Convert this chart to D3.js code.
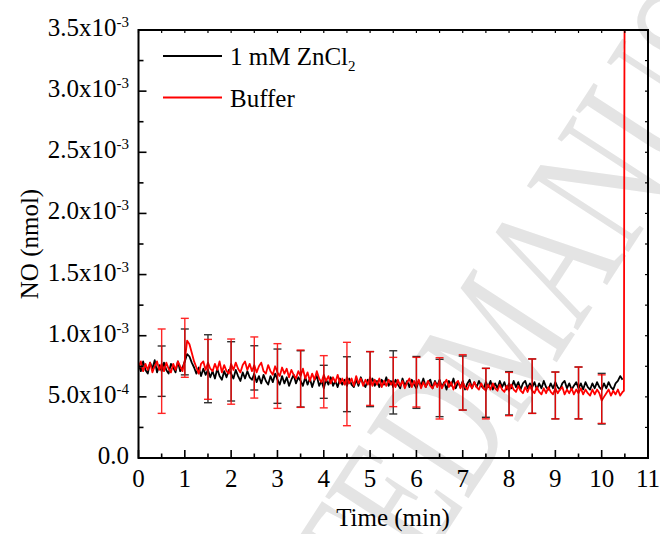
<!DOCTYPE html>
<html>
<head>
<meta charset="utf-8">
<script src="https://cdn.jsdelivr.net/npm/d3@7"></script>
<style>
  html, body { margin: 0; padding: 0; background: #fff; }
  svg { display: block; font-family: "Liberation Serif", "Times New Roman", serif; }
</style>
</head>
<body>
<div id="chart"></div>
<script>
'use strict';

// NO values are in units of 1e-3 nmol; samples every 0.05 min from t = 0
const SAMPLE_STEP = 0.05;

const ZNCL2_VALUES = [
  0.77, 0.71, 0.79, 0.72, 0.69, 0.78, 0.73, 0.80, 0.70, 0.76, 0.71, 0.78, 0.72, 0.69, 0.77, 0.74, 0.70, 0.79, 0.71, 0.74,
  0.79, 0.85, 0.83, 0.78, 0.74, 0.69, 0.74, 0.67, 0.73, 0.68,
  0.72, 0.66, 0.71, 0.65, 0.73, 0.67, 0.64, 0.71, 0.66, 0.72, 0.69, 0.65, 0.72, 0.67, 0.63, 0.70, 0.65, 0.71, 0.66, 0.64,
  0.69, 0.62, 0.67, 0.61, 0.68, 0.63, 0.60, 0.67, 0.62, 0.69, 0.64, 0.60, 0.67, 0.61, 0.66, 0.59, 0.64, 0.68, 0.61, 0.66,
  0.63, 0.59, 0.66, 0.60, 0.65, 0.58, 0.64, 0.67, 0.59, 0.63, 0.57, 0.64, 0.60, 0.66, 0.59, 0.63, 0.58, 0.65, 0.60, 0.64,
  0.59, 0.65, 0.60, 0.58, 0.64, 0.59, 0.66, 0.61, 0.58, 0.64, 0.60, 0.65, 0.59, 0.63, 0.58, 0.64, 0.60, 0.66, 0.59, 0.63,
  0.58, 0.64, 0.60, 0.57, 0.65, 0.59, 0.63, 0.58, 0.64, 0.60, 0.57, 0.63, 0.59, 0.65, 0.58, 0.62, 0.64, 0.57, 0.63, 0.59,
  0.64, 0.58, 0.62, 0.56, 0.63, 0.59, 0.65, 0.57, 0.62, 0.58, 0.63, 0.56, 0.61, 0.64, 0.57, 0.62, 0.58, 0.63, 0.59, 0.57,
  0.62, 0.58, 0.63, 0.56, 0.61, 0.57, 0.63, 0.58, 0.62, 0.56, 0.61, 0.57, 0.63, 0.58, 0.62, 0.56, 0.61, 0.63, 0.57, 0.61,
  0.58, 0.62, 0.56, 0.61, 0.57, 0.63, 0.58, 0.56, 0.61, 0.57, 0.62, 0.58, 0.56, 0.61, 0.63, 0.57, 0.61, 0.56, 0.59, 0.62,
  0.57, 0.61, 0.56, 0.62, 0.58, 0.56, 0.61, 0.57, 0.62, 0.58, 0.56, 0.61, 0.57, 0.62, 0.58, 0.56, 0.61, 0.63, 0.67, 0.64
];

const BUFFER_VALUES = [
  0.74, 0.79, 0.71, 0.77, 0.72, 0.78, 0.70, 0.75, 0.79, 0.72, 0.77, 0.71, 0.78, 0.73, 0.70, 0.77, 0.72, 0.79, 0.75, 0.71,
  0.80, 0.96, 0.93, 0.86, 0.79, 0.74, 0.69, 0.77, 0.79, 0.72,
  0.78, 0.73, 0.71, 0.77, 0.72, 0.79, 0.70, 0.76, 0.71, 0.69, 0.77, 0.72, 0.78, 0.73, 0.70, 0.76, 0.79, 0.72, 0.77, 0.71,
  0.76, 0.70, 0.75, 0.78, 0.71, 0.69, 0.76, 0.71, 0.68, 0.75, 0.70, 0.67, 0.74, 0.69, 0.73, 0.66, 0.72, 0.68, 0.65, 0.71,
  0.67, 0.73, 0.65, 0.70, 0.63, 0.69, 0.64, 0.71, 0.65, 0.62, 0.68, 0.63, 0.67, 0.61, 0.66, 0.62, 0.68, 0.61, 0.65, 0.60,
  0.66, 0.61, 0.65, 0.59, 0.67, 0.61, 0.65, 0.59, 0.64, 0.60, 0.66, 0.59, 0.64, 0.60, 0.65, 0.58, 0.63, 0.59, 0.64, 0.60,
  0.63, 0.58, 0.64, 0.59, 0.63, 0.57, 0.62, 0.65, 0.58, 0.63, 0.59, 0.64, 0.57, 0.62, 0.58, 0.63, 0.59, 0.57, 0.62, 0.58,
  0.63, 0.57, 0.61, 0.64, 0.58, 0.62, 0.56, 0.61, 0.63, 0.57, 0.62, 0.58, 0.56, 0.61, 0.57, 0.62, 0.58, 0.56, 0.61, 0.57,
  0.55, 0.60, 0.56, 0.61, 0.57, 0.55, 0.60, 0.56, 0.54, 0.59, 0.55, 0.60, 0.56, 0.54, 0.59, 0.55, 0.53, 0.58, 0.54, 0.59,
  0.55, 0.53, 0.58, 0.54, 0.52, 0.57, 0.53, 0.58, 0.54, 0.52, 0.57, 0.53, 0.56, 0.58, 0.52, 0.56, 0.53, 0.57, 0.52, 0.56,
  0.53, 0.57, 0.52, 0.56, 0.53, 0.51, 0.56, 0.52, 0.56, 0.53, 0.47, 0.50, 0.53, 0.56, 0.51, 0.55, 0.52, 0.56, 0.51, 0.54
];

// buffer trace ends with the jump off the top of the plot
const BUFFER_TAIL_TIME  = [10.48, 10.49, 10.50];
const BUFFER_TAIL_VALUE = [0.55, 3.00, 4.50];

const ERR_TIME = [0.5, 1, 1.5, 2, 2.5, 3, 3.5, 4, 4.5, 5, 5.5, 6, 6.5, 7, 7.5, 8, 8.5, 9, 9.5, 10];
const ZNCL2_ERR_HI = [0.916, 1.055, 1.008, 0.951, 0.918, 0.891, 0.877, 0.758, 0.828, 0.870, 0.877, 0.830, 0.807, 0.834, 0.733, 0.706, 0.810, 0.703, 0.744, 0.692];
const ZNCL2_ERR_LO = [0.504, 0.680, 0.452, 0.466, 0.556, 0.447, 0.417, 0.488, 0.379, 0.420, 0.360, 0.406, 0.338, 0.392, 0.333, 0.352, 0.365, 0.320, 0.320, 0.278];
const BUFFER_ERR_HI = [1.055, 1.142, 0.970, 0.973, 0.990, 0.935, 0.883, 0.837, 0.946, 0.870, 0.823, 0.823, 0.820, 0.845, 0.733, 0.700, 0.810, 0.703, 0.744, 0.680];
const BUFFER_ERR_LO = [0.365, 0.660, 0.480, 0.440, 0.490, 0.406, 0.414, 0.410, 0.264, 0.430, 0.420, 0.417, 0.319, 0.392, 0.320, 0.346, 0.365, 0.320, 0.320, 0.283];

const X_TICKS = [0, 1, 2, 3, 4, 5, 6, 7, 8, 9, 10, 11];
const Y_TICKS = [0, 0.5, 1.0, 1.5, 2.0, 2.5, 3.0, 3.5];
const Y_TICK_LABELS = [
  ['0.0', null], ['5.0x10', '-4'], ['1.0x10', '-3'], ['1.5x10', '-3'],
  ['2.0x10', '-3'], ['2.5x10', '-3'], ['3.0x10', '-3'], ['3.5x10', '-3']
];

const W = 660, H = 534;
const M = { left: 138.5, right: 648, top: 30, bottom: 458 };
const FONT = 25;

const x = d3.scaleLinear().domain([0, 11]).range([M.left, M.right]);
const y = d3.scaleLinear().domain([0, 3.5]).range([M.bottom, M.top]);

const svg = d3.select('#chart').append('svg')
  .attr('width', W).attr('height', H);

// faint diagonal watermark behind the plot
const wm = svg.append('g')
  .attr('transform', 'translate(516,425) rotate(-57) scale(0.68,1)')
  .attr('fill', '#e4e4e4')
  .attr('font-size', 185);
wm.append('text').attr('text-anchor', 'end').text('ACCEPTED ');
wm.append('text').attr('text-anchor', 'start').text('MANUSCRIPT');

svg.append('clipPath').attr('id', 'plot-clip')
  .append('rect')
  .attr('x', M.left).attr('y', M.top)
  .attr('width', M.right - M.left).attr('height', M.bottom - M.top);

const plot = svg.append('g').attr('clip-path', 'url(#plot-clip)');

const line = d3.line().x(d => x(d.t)).y(d => y(d.v));

const zncl2 = ZNCL2_VALUES.map((v, i) => ({ t: i * SAMPLE_STEP, v }));
const buffer = BUFFER_VALUES.map((v, i) => ({ t: i * SAMPLE_STEP, v }))
  .concat(BUFFER_TAIL_TIME.map((t, i) => ({ t, v: BUFFER_TAIL_VALUE[i] })));

plot.append('path').datum(zncl2)
  .attr('fill', 'none').attr('stroke', '#000').attr('stroke-width', 1.8)
  .attr('stroke-linejoin', 'round').attr('d', line);
plot.append('path').datum(buffer)
  .attr('fill', 'none').attr('stroke', '#ff0000').attr('stroke-width', 1.8)
  .attr('stroke-linejoin', 'round').attr('d', line);

function errorBars(hi, lo, color, opacity) {
  const g = plot.append('g').attr('stroke', color).attr('stroke-width', 1.4).attr('opacity', opacity);
  ERR_TIME.forEach((t, i) => {
    const cx = x(t);
    g.append('line').attr('x1', cx).attr('x2', cx).attr('y1', y(hi[i])).attr('y2', y(lo[i]));
    g.append('line').attr('x1', cx - 4).attr('x2', cx + 4).attr('y1', y(hi[i])).attr('y2', y(hi[i]));
    g.append('line').attr('x1', cx - 4).attr('x2', cx + 4).attr('y1', y(lo[i])).attr('y2', y(lo[i]));
  });
}
errorBars(ZNCL2_ERR_HI, ZNCL2_ERR_LO, '#000', 0.8);
errorBars(BUFFER_ERR_HI, BUFFER_ERR_LO, '#ff0000', 0.85);

// frame and inward ticks
const axes = svg.append('g').attr('stroke', '#000').attr('fill', 'none');
axes.append('rect')
  .attr('x', M.left).attr('y', M.top)
  .attr('width', M.right - M.left).attr('height', M.bottom - M.top)
  .attr('stroke-width', 2);

d3.range(0, 11.01, 0.5).forEach(t => {
  const major = Math.abs(t - Math.round(t)) < 1e-6;
  axes.append('line').attr('x1', x(t)).attr('x2', x(t))
    .attr('y1', M.bottom).attr('y2', M.bottom - (major ? 8 : 4.5)).attr('stroke-width', 1.6);
  axes.append('line').attr('x1', x(t)).attr('x2', x(t))
    .attr('y1', M.top).attr('y2', M.top + 3).attr('stroke-width', 1.2);
});
d3.range(0, 3.501, 0.25).forEach(v => {
  const major = Math.abs(v * 2 - Math.round(v * 2)) < 1e-6;
  axes.append('line').attr('x1', M.left).attr('x2', M.left + (major ? 8 : 5))
    .attr('y1', y(v)).attr('y2', y(v)).attr('stroke-width', 1.6);
  axes.append('line').attr('x1', M.right).attr('x2', M.right - 3)
    .attr('y1', y(v)).attr('y2', y(v)).attr('stroke-width', 1.2);
});

// tick labels
svg.append('g').selectAll('text').data(X_TICKS).join('text')
  .attr('x', d => x(d)).attr('y', 487)
  .attr('text-anchor', 'middle').attr('font-size', FONT)
  .text(d => d);

const yl = svg.append('g');
Y_TICKS.forEach((v, i) => {
  const [base, exp] = Y_TICK_LABELS[i];
  const tx = yl.append('text')
    .attr('x', 129).attr('y', y(v) + 6)
    .attr('text-anchor', 'end').attr('font-size', FONT);
  tx.append('tspan').text(base);
  if (exp) tx.append('tspan').attr('font-size', 15).attr('dy', -9).text(exp);
});

// axis titles
svg.append('text')
  .attr('x', 393).attr('y', 526)
  .attr('text-anchor', 'middle').attr('font-size', FONT)
  .text('Time (min)');
svg.append('text')
  .attr('transform', 'translate(38,244) rotate(-90)')
  .attr('text-anchor', 'middle').attr('font-size', FONT)
  .text('NO (nmol)');

// legend
const legend = svg.append('g');
legend.append('line').attr('x1', 163).attr('x2', 222).attr('y1', 56).attr('y2', 56)
  .attr('stroke', '#000').attr('stroke-width', 1.8);
legend.append('line').attr('x1', 163).attr('x2', 222).attr('y1', 97.5).attr('y2', 97.5)
  .attr('stroke', '#ff0000').attr('stroke-width', 1.8);
const l1 = legend.append('text').attr('x', 230).attr('y', 65).attr('font-size', FONT);
l1.append('tspan').text('1 mM ZnCl');
l1.append('tspan').attr('font-size', 15).attr('dy', 6).text('2');
legend.append('text').attr('x', 230).attr('y', 106.5).attr('font-size', FONT).text('Buffer');
</script>
</body>
</html>
